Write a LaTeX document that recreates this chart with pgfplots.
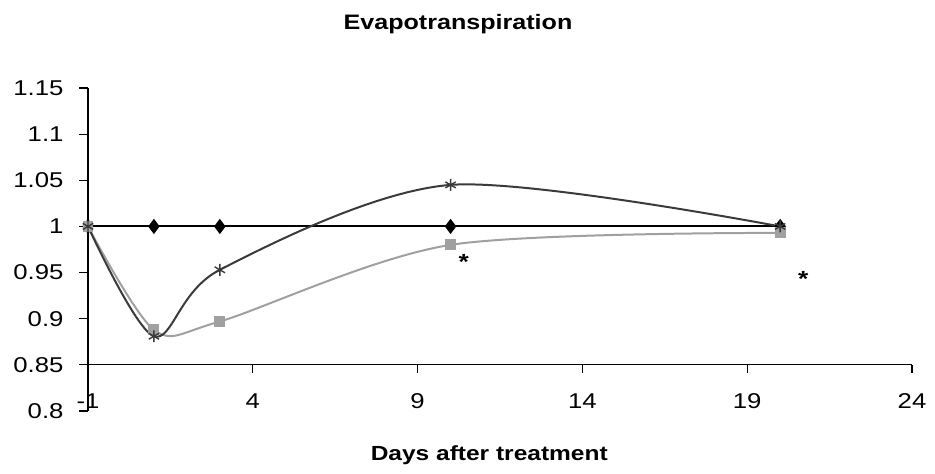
\documentclass[border=0pt]{standalone}
\usepackage{pgfplots}
\pgfplotsset{compat=1.18}
\usepackage{fontspec}
\setmainfont{Liberation Sans}[FakeStretch=1.2]

\definecolor{darkser}{HTML}{3A3A3A}
\definecolor{lightser}{HTML}{A0A0A0}

\begin{document}
\begin{tikzpicture}
\useasboundingbox (0,0) rectangle (935bp,474bp);
\begin{axis}[
    at={(88bp,63bp)}, anchor=south west,
    width=824bp, height=323bp, scale only axis,
    xmin=-1, xmax=24, ymin=0.8, ymax=1.15,
    clip=false,
    axis lines*=left,
    axis line style={-, black, line width=1.2pt},
    x axis line style={draw=none},
    xtick={-1,4,9,14,19,24},
    ytick={0.8,0.85,0.9,0.95,1,1.05,1.1,1.15},
    xtick style={draw=none},
    ytick style={black, line width=1.2pt},
    tick align=outside,
    major tick length=9bp,
    /pgf/number format/assume math mode=true,
    ticklabel style={font=\fontsize{21.5}{23}\selectfont},
    xticklabel style={anchor=center, yshift=19bp},
    yticklabel style={xshift=-12bp},
    title={\textbf{Evapotranspiration}},
    title style={at={(axis description cs:0.449,1)}, anchor=center, yshift=58bp,
                 font=\fontsize{21}{23}\selectfont},
    xlabel={\textbf{Days after treatment}},
    xlabel style={at={(axis description cs:0.487,0)}, anchor=center, yshift=-44bp,
                  font=\fontsize{20.5}{22}\selectfont},
]
% x axis line drawn at 0.85 as in the original
\addplot[black, line width=1.2pt] coordinates {(-1,0.85) (24,0.85)};
\pgfplotsinvokeforeach{4,9,14,19,24}{
  \draw[black, line width=1.2pt] (axis cs:#1,0.85) -- ([yshift=-8bp]axis cs:#1,0.85);
}

% control (flat at 1)
\addplot[black, line width=2pt, mark=diamond*, mark size=6pt,
         mark options={fill=black}] coordinates {
    (-1,1) (1,1) (3,1) (10,1) (20,1)
};
% light grey series
\addplot[lightser, line width=2pt, smooth, mark=square*, mark size=4.5pt,
         mark options={fill=lightser}] coordinates {
    (-1,1) (1,0.888) (3,0.897) (10,0.980) (20,0.993)
};
% dark grey series
\addplot[darkser, line width=2pt, smooth, mark=asterisk, mark size=6pt,
         mark options={line width=1.4pt}] coordinates {
    (-1,1) (1,0.881) (3,0.953) (10,1.045) (20,1.000)
};

\node[font=\fontsize{22}{22}\selectfont\bfseries] at (axis cs:10.4,0.962) {*};
\node[font=\fontsize{22}{22}\selectfont\bfseries] at (axis cs:20.7,0.943) {*};
\end{axis}
\end{tikzpicture}
\end{document}
